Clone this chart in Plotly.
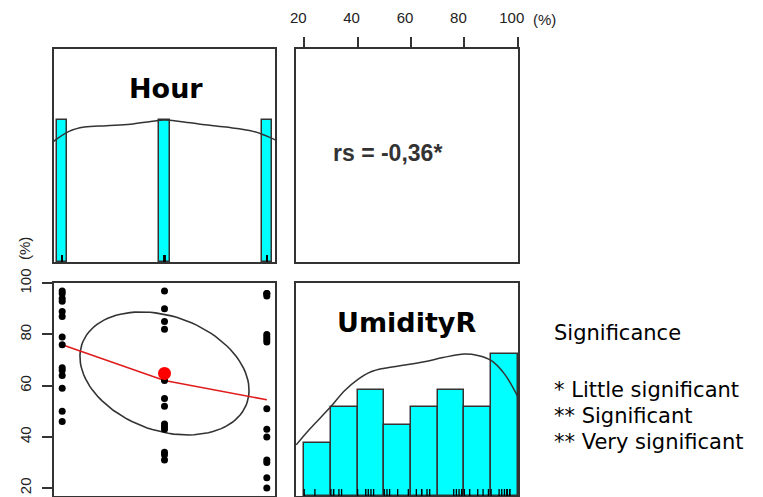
import numpy as np
import plotly.graph_objects as go

# ---- data -------------------------------------------------------------
hour_levels = [9, 15, 21]
# relative humidity (%) observed at each hour
humidity_09h = [97, 96, 94, 93, 89, 87, 79, 76, 67, 66, 64, 59, 50, 46]
humidity_15h = [97, 90, 85, 82, 64, 62, 55, 52, 45, 44, 43, 34, 33, 31]
humidity_21h = [96, 96, 95, 80, 79, 78, 77, 51, 43, 40, 31, 30, 24, 20]

humidity_breaks = [20, 30, 40, 50, 60, 70, 80, 90, 100]
hour_bar_width = 0.6

# smoothed (lowess) humidity at each hour
smooth_humidity = [76.0, 62.0, 54.5]

# scaled density curves (max = 1)
hour_density_x = [8.5, 9.4, 10.3, 11.6, 13.0, 14.2, 15.0, 15.9, 17.1, 18.6, 20.2, 21.5]
hour_density_y = [0.85, 0.92, 0.95, 0.96, 0.97, 0.99, 1.0, 0.99, 0.97, 0.95, 0.92, 0.86]
hum_density_x = [17, 22, 30, 35, 40, 45, 50, 57, 65, 72, 80, 85, 90, 95, 100]
hum_density_y = [0.36, 0.47, 0.63, 0.74, 0.82, 0.875, 0.90, 0.92, 0.945, 0.975, 1.0,
                 0.99, 0.955, 0.86, 0.70]

corr_label = "rs = -0,36*"
legend_title = "Significance"
legend_lines = ["* Little significant", "** Significant", "** Very significant"]
hum_ticks = [20, 40, 60, 80, 100]

# ---- derived values -----------------------------------------------------
hours = np.repeat(hour_levels, [len(humidity_09h), len(humidity_15h), len(humidity_21h)])
hum = np.array(humidity_09h + humidity_15h + humidity_21h, dtype=float)

# histogram counts with right-closed bins, scaled to max = 1
edges = np.array(humidity_breaks, dtype=float)
neg_counts, _ = np.histogram(-hum, bins=-edges[::-1])
hum_counts = neg_counts[::-1]
hum_heights = hum_counts / hum_counts.max()
hum_mids = (edges[:-1] + edges[1:]) / 2

hour_counts = np.array([np.sum(hours == h) for h in hour_levels])
hour_heights = hour_counts / hour_counts.max()

# correlation ellipse
mx, my = hours.mean(), hum.mean()
sx, sy = hours.std(ddof=1), hum.std(ddof=1)
r = np.corrcoef(hours, hum)[0, 1]
ang = np.linspace(0, 2 * np.pi, 101)
th = np.sign(r) / np.sqrt(2)
a, b = np.sqrt(1 + r), np.sqrt(1 - r)
ell_x = (np.cos(ang) * a * th - np.sin(ang) * b * th) * sx + mx
ell_y = (np.cos(ang) * a * th + np.sin(ang) * b * th) * sy + my

# axis ranges with 4% padding
hr_pad = 0.04 * (max(hour_levels) - min(hour_levels))
hour_range = [min(hour_levels) - hr_pad, max(hour_levels) + hr_pad]
hm_pad = 0.04 * (hum.max() - hum.min())
hum_range = [hum.min() - hm_pad, hum.max() + hm_pad]

# ---- figure -------------------------------------------------------------
W, H = 763, 497
def px_x(p):
    return p / W
def px_y(p):
    return 1 - p / H

dom_left = [px_x(54), px_x(275)]
dom_right = [px_x(296), px_x(518)]
dom_top = [px_y(262), px_y(49)]
dom_bot = [px_y(496), px_y(283)]

EDGE = "#333333"
CYAN = "#00FFFF"
FONT = "Liberation Sans, Arial, sans-serif"
WIDE = "DejaVu Sans, Verdana, sans-serif"

fig = go.Figure()

# panel 1: hour histogram
fig.add_trace(go.Bar(x=hour_levels, y=hour_heights, width=hour_bar_width,
                     marker=dict(color=CYAN, line=dict(color=EDGE, width=1.5)),
                     xaxis="x", yaxis="y"))
fig.add_trace(go.Scatter(x=hour_density_x, y=hour_density_y, mode="lines",
                         line=dict(color=EDGE, width=1.5, shape="spline"),
                         xaxis="x", yaxis="y"))
fig.add_trace(go.Scatter(x=hours, y=np.zeros(len(hours)), mode="markers",
                         marker=dict(symbol="line-ns-open", size=10, color="black",
                                     line=dict(color="black", width=1.3)),
                         xaxis="x", yaxis="y"))

# panel 2: empty frame holding the correlation text and the top axis
fig.add_trace(go.Scatter(x=[hum_range[0]], y=[0.5], mode="markers",
                         marker=dict(opacity=0), hoverinfo="skip",
                         xaxis="x2", yaxis="y2"))

# panel 3: scatter with ellipse and smooth
fig.add_trace(go.Scatter(x=ell_x, y=ell_y, mode="lines",
                         line=dict(color=EDGE, width=1.6),
                         xaxis="x3", yaxis="y3"))
fig.add_trace(go.Scatter(x=hour_levels, y=smooth_humidity, mode="lines",
                         line=dict(color="#e01b1b", width=1.6),
                         xaxis="x3", yaxis="y3"))
fig.add_trace(go.Scatter(x=hours, y=hum, mode="markers",
                         marker=dict(color="black", size=7),
                         xaxis="x3", yaxis="y3"))
fig.add_trace(go.Scatter(x=[mx], y=[my], mode="markers",
                         marker=dict(color="#ff0000", size=13),
                         xaxis="x3", yaxis="y3"))

# panel 4: humidity histogram
fig.add_trace(go.Bar(x=hum_mids, y=hum_heights, width=10,
                     marker=dict(color=CYAN, line=dict(color=EDGE, width=1.5)),
                     xaxis="x4", yaxis="y4"))
fig.add_trace(go.Scatter(x=hum_density_x, y=hum_density_y, mode="lines",
                         line=dict(color=EDGE, width=1.5, shape="spline"),
                         xaxis="x4", yaxis="y4"))
fig.add_trace(go.Scatter(x=hum, y=np.zeros(len(hum)), mode="markers",
                         marker=dict(symbol="line-ns-open", size=10, color="black",
                                     line=dict(color="black", width=1.3)),
                         xaxis="x4", yaxis="y4"))

box = dict(showline=True, mirror=True, linecolor=EDGE, linewidth=1.6,
           showgrid=False, zeroline=False, ticks="", showticklabels=False,
           automargin=False, fixedrange=True)

fig.update_layout(
    width=W, height=H, margin=dict(l=0, r=0, t=0, b=0, pad=0, autoexpand=False),
    paper_bgcolor="white", plot_bgcolor="white", showlegend=False,
    bargap=0, font=dict(family=FONT, color="#222222"),
    xaxis=dict(domain=dom_left, range=hour_range, anchor="y", **box),
    yaxis=dict(domain=dom_top, range=[0, 1.5], anchor="x", **box),
    xaxis2=dict(domain=dom_right, range=hum_range, anchor="y2", side="top",
                showline=True, mirror=True, linecolor=EDGE, linewidth=1.6,
                showgrid=False, zeroline=False, ticks="outside", ticklen=10,
                tickwidth=1.5, tickcolor=EDGE, tickvals=hum_ticks,
                ticktext=[str(t) for t in hum_ticks], ticklabelshift=-6,
                ticklabelstandoff=8, tickfont=dict(size=15, color="#222222"),
                automargin=False, fixedrange=True),
    yaxis2=dict(domain=dom_top, range=[0, 1], anchor="x2", **box),
    xaxis3=dict(domain=dom_left, range=hour_range, anchor="y3", **box),
    yaxis3=dict(domain=dom_bot, range=hum_range, anchor="x3",
                showline=True, mirror=True, linecolor=EDGE, linewidth=1.6,
                showgrid=False, zeroline=False, ticks="outside", ticklen=10,
                tickwidth=1.5, tickcolor=EDGE, tickvals=hum_ticks,
                ticktext=[str(t) for t in hum_ticks], tickangle=-90,
                ticklabelstandoff=5, tickfont=dict(size=15, color="#222222"),
                automargin=False, fixedrange=True),
    xaxis4=dict(domain=dom_right, range=hum_range, anchor="y4", **box),
    yaxis4=dict(domain=dom_bot, range=[0, 1.5], anchor="x4", **box),
)

ann = []
ann.append(dict(text="<b>Hour</b>", x=px_x(166), y=px_y(88),
                font=dict(family=WIDE, size=27, color="black")))
ann.append(dict(text="<b>UmidityR</b>", x=px_x(406), y=px_y(322),
                font=dict(family=WIDE, size=27, color="black")))
ann.append(dict(text="<b>" + corr_label + "</b>", x=px_x(331), y=px_y(153), xanchor="left",
                font=dict(size=23, color="#333333")))
ann.append(dict(text="(%)", x=px_x(531), y=px_y(19), xanchor="left",
                font=dict(size=15, color="#222222")))
ann.append(dict(text="(%)", x=px_x(25), y=px_y(249), textangle=-90,
                font=dict(size=15, color="#222222")))
ann.append(dict(text=legend_title, x=px_x(552), y=px_y(333), xanchor="left",
                font=dict(family=WIDE, size=21, color="black")))
for i, line in enumerate(legend_lines):
    ann.append(dict(text=line, x=px_x(552), y=px_y(390 + 26 * i), xanchor="left",
                    font=dict(family=WIDE, size=21, color="black")))
for a_ in ann:
    a_.setdefault("xanchor", "center")
    a_.setdefault("yanchor", "middle")
    a_.update(xref="paper", yref="paper", showarrow=False)
fig.update_layout(annotations=ann)

fig.write_html("out.html", config={"displayModeBar": False})
